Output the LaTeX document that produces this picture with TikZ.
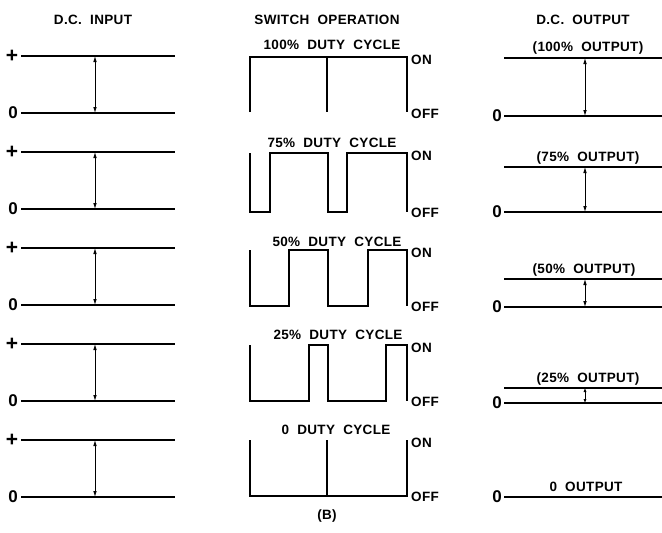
\documentclass[tikz,border=0pt]{standalone}
\usepackage{fontspec}
\newfontfamily\lett{Liberation Sans}[LetterSpace=2.5,WordSpace=2.0]
\usetikzlibrary{arrows.meta}
\begin{document}
\begin{tikzpicture}[x=1pt,y=-1pt,
  txt/.style={font=\lett\bfseries\fontsize{13.5}{13.5}\selectfont, inner sep=0pt, text height=9.6pt, text depth=0pt},
  sig/.style={font=\lett\bfseries\fontsize{17}{17}\selectfont, inner sep=0pt, text height=11pt, text depth=0pt},
  plus/.style={font=\lett\bfseries\fontsize{21}{21}\selectfont, inner sep=0pt, text height=11pt, text depth=0pt},
  level/.style={line width=1.3pt},
  wave/.style={line width=1.7pt, line join=miter},
  dim/.style={{Latex[length=6pt,width=3.6pt]}-{Latex[length=6pt,width=3.6pt]}, line width=0.8pt}]
\useasboundingbox (0,0) rectangle (662,533);

% headers
\node[txt] (hin) at (93,20) {D.C. INPUT};
\node[txt] (hsw) at (327,20) {SWITCH OPERATION};
\node[txt] (hout) at (583,20) {D.C. OUTPUT};

% D.C. input column
\foreach \i/\yp in {1/56,2/152,3/248,4/344,5/440}{
  \node[plus] (ip\i) at (12,{\yp+1}) {+};
  \node[sig] (iz\i) at (13,{\yp+57}) {0};
  \coordinate (ips\i) at (21,\yp);
  \coordinate (ipe\i) at (175,\yp);
  \coordinate (izs\i) at (21,{\yp+57});
  \coordinate (ize\i) at (175,{\yp+57});
  \coordinate (ia\i) at (95,\yp);
  \coordinate (ib\i) at (95,{\yp+57});
  \draw[level] (ips\i) -- (ipe\i);
  \draw[level] (izs\i) -- (ize\i);
  \draw[dim] (ib\i) -- (ia\i);
}

% switch operation column
\node[txt] (d100) at (332,45) {100\% DUTY CYCLE};
\node[txt] (d75) at (332,143) {75\% DUTY CYCLE};
\node[txt] (d50) at (337,242) {50\% DUTY CYCLE};
\node[txt] (d25) at (338,335) {25\% DUTY CYCLE};
\node[txt] (d0) at (336,430) {0 DUTY CYCLE};

\foreach \i/\yt in {1/57,2/153,3/250,4/345,5/440}{
  \node[txt, anchor=west] (on\i) at (411,{\yt+3}) {ON};
}
\foreach \i/\yb in {1/113,2/212,3/306,4/401,5/496}{
  \node[txt, anchor=west] (off\i) at (411,{\yb+1}) {OFF};
}

% 100%
\draw[wave] (250,112) -- (250,57) -- (407,57) -- (407,112);
\draw[wave] (327,57) -- (327,112);
% 75%
\draw[wave] (250,153) -- (250,212) -- (270,212) -- (270,153) -- (328,153) -- (328,212)
  -- (347,212) -- (347,153) -- (407,153) -- (407,212);
% 50%
\draw[wave] (250,250) -- (250,306) -- (289,306) -- (289,250) -- (328,250) -- (328,306)
  -- (368,306) -- (368,250) -- (407,250) -- (407,306);
% 25%
\draw[wave] (250,345) -- (250,401) -- (309,401) -- (309,345) -- (328,345) -- (328,401)
  -- (386,401) -- (386,345) -- (407,345) -- (407,401);
% 0
\draw[wave] (250,440) -- (250,496) -- (407,496) -- (407,440);
\draw[wave] (327,440) -- (327,496);

% D.C. output column
\node[txt] (o100) at (588,47) {(100\% OUTPUT)};
\node[txt] (o75) at (588,157) {(75\% OUTPUT)};
\node[txt] (o50) at (584,269) {(50\% OUTPUT)};
\node[txt] (o25) at (588,378) {(25\% OUTPUT)};
\node[txt] (o0) at (586,487) {0 OUTPUT};

\foreach \i/\yt/\yz in {1/58/116,2/167/212,3/279/307,4/388/403}{
  \coordinate (ots\i) at (504,\yt);
  \coordinate (ote\i) at (662,\yt);
  \draw[level] (ots\i) -- (ote\i);
  \coordinate (oa\i) at (585,\yt);
  \coordinate (ob\i) at (585,\yz);
}
\foreach \i/\yz in {1/116,2/212,3/307,4/403,5/497}{
  \node[sig] (oz\i) at (497,\yz) {0};
  \coordinate (ozs\i) at (504,\yz);
  \coordinate (oze\i) at (662,\yz);
  \draw[level] (ozs\i) -- (oze\i);
}
\draw[dim] (ob1) -- (oa1);
\draw[dim] (ob2) -- (oa2);
\draw[dim] (ob3) -- (oa3);
\draw[{Latex[length=4pt,width=3.2pt]}-{Latex[length=4pt,width=3.2pt]}, line width=0.8pt] (ob4) -- (oa4);

\node[txt] (cap) at (327,515) {(B)};
\end{tikzpicture}
\end{document}
